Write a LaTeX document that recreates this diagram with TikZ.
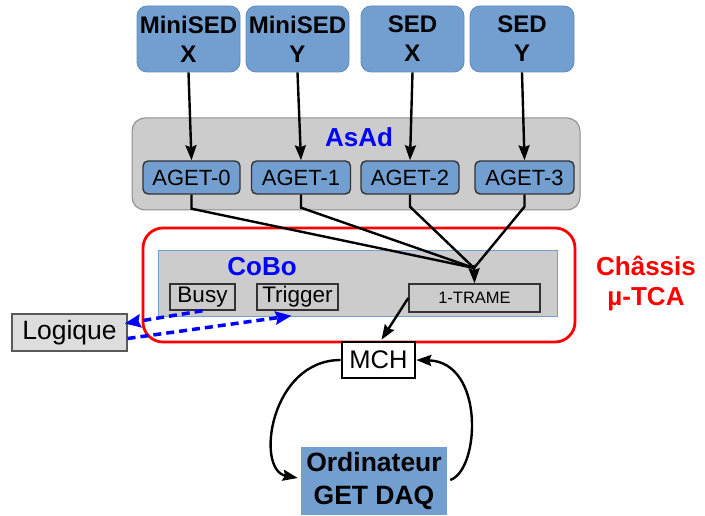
\documentclass[tikz,border=0pt]{standalone}
\usepackage{fontspec}
\setmainfont{Liberation Sans}
\usetikzlibrary{arrows.meta,calc}
\definecolor{boxblue}{HTML}{729FCF}
\definecolor{boxblueline}{HTML}{5F8AC0}
\definecolor{grayfill}{HTML}{CCCCCC}
\definecolor{lgray}{HTML}{DDDDDD}
\definecolor{asadline}{HTML}{8C8C8C}
\tikzset{
  srcbox/.style={draw=boxblueline, line width=0.8pt, fill=boxblue, rounded corners=10pt, minimum width=103pt, minimum height=66pt, align=center, inner sep=0pt, font=\fontsize{24}{29}\selectfont\bfseries},
  agetbox/.style={draw=black!80, line width=1.4pt, fill=boxblue, rounded corners=5pt, minimum height=33pt, inner sep=0pt, font=\fontsize{22}{24}\selectfont},
  smallbox/.style={draw=black!80, line width=1.5pt, fill=grayfill, minimum height=26pt, inner sep=0pt, font=\fontsize{22.5}{24}\selectfont},
  conn/.style={line width=2.4pt, black},
  arr/.style={conn, -{Stealth[length=15pt,width=11pt,inset=2pt]}},
  bluearr/.style={line width=3.5pt, blue, dash pattern=on 8pt off 5pt, -{Stealth[length=16pt,width=13pt,inset=2pt]}},
  bluetitle/.style={text=blue, font=\fontsize{26}{28}\selectfont\bfseries, inner sep=0pt},
}
\begin{document}
\begin{tikzpicture}[x=1pt,y=-1pt]
\useasboundingbox (0,0) rectangle (705,516);

% AsAd container
\node[draw=asadline, line width=1pt, fill=grayfill, rounded corners=13pt, minimum width=448pt, minimum height=92pt, inner sep=0pt] (asad) at (356,164) {};
\node[bluetitle] (asadlbl) at (359,137) {AsAd};

% Red chassis
\node[draw=red, line width=2.8pt, rounded corners=20pt, minimum width=432pt, minimum height=114pt, inner sep=0pt] (chassis) at (359,285) {};
% CoBo container
\node[draw=boxblue, line width=1pt, fill=grayfill, minimum width=399pt, minimum height=65pt, inner sep=0pt] (cobo) at (357.5,283.5) {};
\node[bluetitle] (cobolbl) at (262,267) {CoBo};

% source boxes
\node[srcbox] (msx) at (188.5,39) {MiniSED\\X};
\node[srcbox] (msy) at (297.5,39) {MiniSED\\Y};
\node[srcbox] (sx) at (412.5,39) {SED\\X};
\node[srcbox, minimum width=104pt] (sy) at (522,39) {SED\\Y};

% AGET boxes
\node[agetbox, minimum width=97pt] (a0) at (191.5,177.5) {AGET-0};
\node[agetbox, minimum width=99pt] (a1) at (301,177.5) {AGET-1};
\node[agetbox, minimum width=98pt] (a2) at (410,177.5) {AGET-2};
\node[agetbox, minimum width=99pt] (a3) at (524.5,177.5) {AGET-3};

% CoBo inner boxes
\node[smallbox, minimum width=65pt] (busy) at (202.5,297) {Busy};
\node[smallbox, minimum width=81pt] (trig) at (297.5,297) {Trigger};
\node[smallbox, minimum width=131pt, minimum height=28pt, font=\fontsize{16.5}{18}\selectfont] (trame) at (474.5,298) {1-TRAME};

% Logique
\node[draw=black!65, line width=1.2pt, fill=lgray, minimum width=115pt, minimum height=37pt, inner sep=0pt, font=\fontsize{26.5}{28}\selectfont] (logique) at (69.5,332.5) {Logique};

% MCH
\node[draw=black, line width=2.6pt, fill=white, minimum width=73pt, minimum height=36pt, inner sep=0pt, font=\fontsize{25.5}{28}\selectfont] (mch) at (378.5,360) {MCH};

% Ordinateur
\node[fill=boxblue, minimum width=146pt, minimum height=68pt, inner sep=0pt, align=center, font=\fontsize{26.5}{33}\selectfont\bfseries] (ord) at (374,481) {Ordinateur\\GET DAQ};

% Chassis label
\node[text=red, align=center, inner sep=0pt, font=\fontsize{26}{30}\selectfont\bfseries] (chlbl) at (646,283) {Châssis\\µ-TCA};

% arrows top -> AGET
\draw[arr] (msx.south) -- (a0.north);
\draw[arr] (msy.south) -- (a1.north);
\draw[arr] (sx.south) -- (a2.north);
\draw[arr] (sy.south) -- (a3.north);

% AGET -> 1-TRAME
\coordinate (j) at (474,268);
\draw[conn] (a0.south) -- ++(0,14) -- (j);
\draw[conn] (a1.south) -- ++(0,13) -- (j);
\draw[conn] (a2.south) -- ++(0,12) -- (j);
\draw[conn] (a3.south) -- ++(0,12) -- (j);
\draw[arr] ($(j)+(0,-3)$) -- (trame.north);

% 1-TRAME -> MCH
\draw[arr] (trame.west) -- ($(mch.north)+(3,-1)$);

% blue dashed
\draw[bluearr] (busy.south) -- ($(logique.east)+(-3,-9)$);
\draw[bluearr] ($(logique.east)+(0,6)$) -- ($(trig.south)+(-6,5)$);

% MCH <-> Ordinateur
\draw[arr] (mch.west) .. controls (270,360) and (255,470) .. ($(ord.west)+(-3,-3)$);
\draw[arr] ($(ord.east)+(3,-1)$) .. controls (480,470) and (485,362) .. (mch.east);
\end{tikzpicture}
\end{document}
